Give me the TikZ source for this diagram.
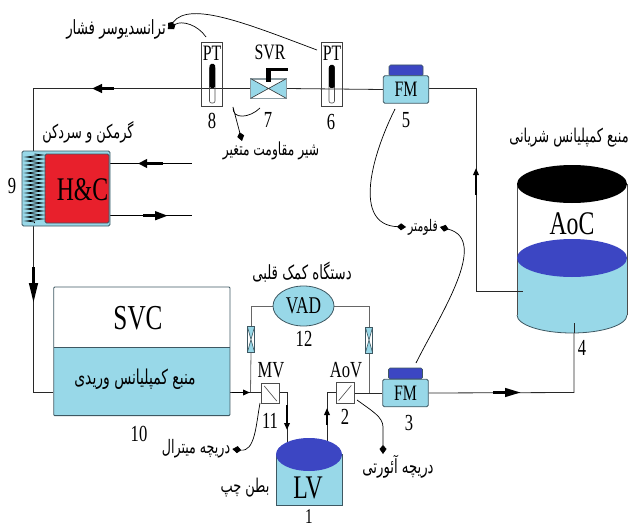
\documentclass[tikz,border=0pt]{standalone}
\usepackage{fontspec}
\usepackage{graphicx}
\setmainfont[FakeStretch=0.72]{Liberation Serif}
\newfontfamily\fa[Script=Arabic]{DejaVu Sans}
\TeXXeTstate=1
\newcommand{\pertext}[1]{\scalebox{0.68}[1]{\beginR #1\endR}}
\usetikzlibrary{arrows.meta,backgrounds,decorations.pathmorphing,calc,shapes.geometric}
\definecolor{water}{RGB}{152,216,232}
\definecolor{deep}{RGB}{60,70,195}
\definecolor{heat}{RGB}{232,32,44}
\definecolor{edge}{RGB}{62,88,98}
\definecolor{pipec}{RGB}{40,40,40}
\tikzset{
  pipe/.style={draw=pipec,line width=0.8pt},
  greypipe/.style={draw=black!60,line width=0.8pt},
  flowtip/.style={line width=2.8pt,draw=black,-{Triangle[length=#1,width=8.5pt]}},
  flowtip/.default=10pt,
  smallflow/.style={line width=1.8pt,draw=black,-{Triangle[length=7pt,width=5.5pt]}},
  leader/.style={line width=0.7pt,draw=black,-{Kite[length=9pt,width=7pt,inset=4pt]}},
  plain/.style={line width=0.7pt,draw=black},
  sz/.style={font=\fontsize{#1}{#1}\selectfont,inner sep=0pt},
  fatxt/.style={font=\fa\fontsize{#1}{#1}\selectfont,inner sep=2pt},
  ptbox/.style={draw=black!75,line width=0.8pt,minimum width=21pt,minimum height=64pt,inner sep=0pt},
  whitebox/.style={draw=black!70,fill=white,line width=0.7pt,minimum width=18pt,minimum height=20.5pt,inner sep=0pt},
  fmbox/.style={draw=edge,fill=water,line width=0.8pt,rounded corners=1.5pt,minimum width=45.5pt,minimum height=27.5pt,inner sep=0pt,font=\fontsize{22}{22}\selectfont},
  capbox/.style={draw=edge,fill=deep,line width=0.6pt,rounded corners=1.5pt,minimum width=34pt,minimum height=11pt,inner sep=0pt},
  xvalve/.style={draw=edge,fill=white,line width=0.7pt,minimum width=6.5pt,minimum height=25pt,inner sep=0pt},
}
\begin{document}
\begin{tikzpicture}[x=1pt,y=-1pt]
\useasboundingbox (0,0) rectangle (630,527);

% --- venous reservoir
\fill[water] (53.7,347) rectangle (230,415.6);
\node[draw=edge,line width=0.9pt,rounded corners=1pt,minimum width=176.3pt,minimum height=128.6pt,inner sep=0pt] (svc) at (141.85,351.3) {};
\draw[edge,line width=0.9pt] (53.7,347) -- (230,347);
\node[sz=35] (svclabel) at (138,318) {SVC};
\node[fatxt=20.5] (venous) at (135,379) {\pertext{منبع کمپلیانس وریدی}};
\node[sz=23] (n10) at (139,434) {10};

% --- heater/cooler
\node[draw=edge,fill=water,line width=0.9pt,rounded corners=1.5pt,minimum width=88pt,minimum height=75pt,inner sep=0pt] (hx) at (66,188.5) {};
\node[draw=edge,fill=heat,line width=0.8pt,rounded corners=1.5pt,minimum width=64pt,minimum height=69pt,inner sep=0pt] (hc) at (77,188.5) {};
\node[sz=33] (hct) at (82.5,190) {H\&C};
\draw[black,line width=0.7pt,decorate,decoration={zigzag,segment length=4pt,amplitude=8pt}] (34.5,154) -- (34.5,223);
\node[fatxt=19] (hclabel) at (88,132) {\pertext{گرمکن و سردکن}};
\node[sz=23] (n9) at (12,186) {9};
\coordinate (hcin) at (192,163.5);
\coordinate (hcout) at (192,215.7);
\coordinate (hcinA) at (163,163.5);
\coordinate (hcinB) at (138,163.5);
\coordinate (hcoutA) at (143,215.7);
\coordinate (hcoutB) at (168,215.7);

% --- top line instruments
\node[ptbox] (pt8) at (212,74) {};
\node[sz=22] (pt8t) at (212,53) {PT};
\node[ptbox] (pt6) at (331.5,74) {};
\node[sz=22] (pt6t) at (332,53) {PT};
\draw[black!70,line width=0.6pt,rounded corners=2pt] (209.5,66) rectangle (215,103);
\fill[black,rounded corners=1.5pt] (209.5,64) rectangle (215,88);
\draw[black!70,line width=0.6pt,rounded corners=2pt] (329,66) rectangle (334.5,103);
\fill[black,rounded corners=1.5pt] (329,65) rectangle (334.5,88);
\node[sz=23] (n8) at (212,121) {8};
\node[sz=23] (n6) at (331,122) {6};

\node[draw=edge!60,fill=white,line width=0.7pt,minimum width=35pt,minimum height=19pt,inner sep=0pt] (svr) at (268.5,88.5) {};
\fill[water] (svr.north west) -- (svr.center) -- (svr.south west) -- cycle;
\fill[water] (svr.north east) -- (svr.center) -- (svr.south east) -- cycle;
\draw[edge!60,line width=0.7pt] (svr.north west) rectangle (svr.south east);
\draw[black!80,line width=0.6pt] (svr.north west) -- (svr.south east) (svr.south west) -- (svr.north east);
\fill[black] (266,74) rectangle (271,82);
\fill[black] (266,68) rectangle (288,71);
\fill[black] (266,68) rectangle (271,75);
\node[sz=22] (svrt) at (270,52) {SVR};
\node[sz=23] (n7) at (268,120) {7};
\node[fatxt=18] (svrlabel) at (271,151) {\pertext{شیر مقاومت متغیر}};

\node[capbox] (cap5) at (406,70.5) {};
\node[fmbox] (fm5) at (406,89.5) {FM};
\node[sz=23] (n5) at (406,120) {5};

\node[capbox] (cap3) at (405.5,373.5) {};
\node[fmbox] (fm3) at (405.5,393) {FM};
\node[sz=23] (n3) at (409,423) {3};

% --- arterial reservoir
\fill[water] (517,258) -- (517,315) arc[start angle=180,end angle=360,x radius=55pt,y radius=18pt] -- (627,258) -- cycle;
\draw[black!70,line width=0.7pt] (517,184) -- (517,315) (627,184) -- (627,315);
\draw[edge,line width=0.8pt] (517,315) arc[start angle=180,end angle=360,x radius=55pt,y radius=18pt];
\fill[deep] (572,258) ellipse[x radius=55pt,y radius=19pt];
\fill[black] (572,184) ellipse[x radius=55pt,y radius=19pt];
\node[sz=33] (aoc) at (572,224) {AoC};
\node[fatxt=19] (aoclabel) at (569,138) {\pertext{منبع کمپلیانس شریانی}};
\node[sz=23] (n4) at (582,348) {4};
\coordinate (aocside) at (523,291);
\coordinate (aocbot) at (574,333);

% --- ventricle
\fill[water] (276,454) rectangle (342,505);
\draw[edge,line width=0.8pt] (276,454) -- (276,505) -- (342,505) -- (342,454);
\fill[deep] (309,454.5) ellipse[x radius=33pt,y radius=16.5pt];
\node[sz=33] (lv) at (308,488) {LV};
\node[fatxt=19] (lvlabel) at (245,488) {\pertext{بطن چپ}};
\node[sz=21] (n1) at (309,516.5) {1};
\coordinate (lvin) at (287,448);
\coordinate (lvout) at (327,448);

% --- valves and VAD
\node[whitebox] (mv) at (270.5,393.5) {};
\draw[black!70,line width=0.6pt] (mv.north west) ++(3,3) -- ($(mv.south east)+(-3,-3)$);
\node[sz=23] (mvt) at (271,370) {MV};
\node[sz=23] (n11) at (270,421) {11};
\node[whitebox] (aov) at (345,393) {};
\draw[black!70,line width=0.6pt] (aov.south west) ++(3,-3) -- ($(aov.north east)+(-3,3)$);
\node[sz=23] (aovt) at (346,370) {AoV};
\node[sz=23] (n2) at (345,417) {2};

\node[ellipse,draw=edge,fill=water,line width=0.8pt,minimum width=61pt,minimum height=40pt,inner sep=0pt,font=\fontsize{24}{24}\selectfont] (vad) at (303.5,306) {VAD};
\node[sz=23] (n12) at (304,339) {12};
\node[fatxt=19.5] (vadlabel) at (302,272) {\pertext{دستگاه کمک قلبی}};
\node[xvalve] (vl) at (251,339.5) {};
\fill[water] (vl.north west) -- (vl.center) -- (vl.north east) -- cycle;
\fill[water] (vl.south west) -- (vl.center) -- (vl.south east) -- cycle;
\draw[edge,line width=0.7pt] (vl.north west) rectangle (vl.south east);
\draw[edge,line width=0.6pt] (vl.north west) -- (vl.south east) (vl.north east) -- (vl.south west);
\node[xvalve] (vr) at (369,340) {};
\fill[water] (vr.north west) -- (vr.center) -- (vr.north east) -- cycle;
\fill[water] (vr.south west) -- (vr.center) -- (vr.south east) -- cycle;
\draw[edge,line width=0.7pt] (vr.north west) rectangle (vr.south east);
\draw[edge,line width=0.6pt] (vr.north west) -- (vr.south east) (vr.north east) -- (vr.south west);

% --- annotation labels
\node[fatxt=19.6] (trans) at (116,29) {\pertext{ترانسدیوسر فشار}};
\node[fatxt=16] (flow) at (423,227) {\pertext{فلومتر}};
\node[fatxt=18.6] (mvlabel) at (196,449) {\pertext{دریچه میترال}};
\node[fatxt=19.5] (aovlabel) at (398,467) {\pertext{دریچه آئورتی}};

\coordinate (c33) at (33,88.5);
\coordinate (c476a) at (476,88.5);
\coordinate (c476b) at (476,291);
\coordinate (c33b) at (33,392);
\coordinate (c574) at (574,392.5);
\coordinate (lj) at (250.5,392);
\coordinate (rj) at (369,392.5);

% --- pipes behind everything
\begin{pgfonlayer}{background}
\draw[pipe] (fm5.west) -- (svr.east);
\draw[pipe] (svr.west) -- (c33) -- (hx.north -| c33);
\draw[pipe] (hx.south -| c33) -- (c33b) -- (svc.west |- c33b);
\draw[pipe] (fm5.east |- c476a) -- (c476a) -- (c476b);
\draw[pipe] (fm3.east) -- (c574) -- (aocbot);
\draw[pipe] (aov.east |- fm3.west) -- (fm3.west);
\draw[pipe] (svc.east |- lj) -- (mv.west |- lj);
\draw[pipe] (mv.east |- lj) -- (lvin |- lj) -- (lvin);
\draw[pipe] (aov.west |- lj) -- (lvout |- lj) -- (lvout);
\draw[greypipe] (lj) -- (vl.south);
\draw[greypipe] (vl.north) -- (vl.north |- vad.west) -- (vad.west);
\draw[greypipe] (rj) -- (vr.south);
\draw[greypipe] (vr.north) -- (vr.north |- vad.east) -- (vad.east);
\draw[plain] (hc.east |- hcin) -- (hcin);
\draw[plain] (hc.east |- hcout) -- (hcout);
\end{pgfonlayer}
\draw[pipe] (c476b) -- (aocside);
\draw[pipe] (aocbot) -- ++(0,-10);

% --- flow arrows
\coordinate (fa1) at (114,88.5); \coordinate (fa2) at (92,88.5);
\draw[flowtip] (fa1) -- (fa2);
\coordinate (fa3) at (33.5,267); \coordinate (fa4) at (33.5,303);
\draw[flowtip=20pt] (fa3) -- (fa4);
\draw[flowtip=9pt] (hcinA) -- (hcinB);
\draw[flowtip=13pt] (hcoutA) -- (hcoutB);
\coordinate (fa5) at (232,392.5); \coordinate (fa6) at (250,392.5);
\draw[smallflow] (fa5) -- (fa6);
\coordinate (fa7) at (287,405); \coordinate (fa8) at (287,430);
\draw[smallflow] (fa7) -- (fa8);
\coordinate (fa9) at (327,425); \coordinate (fa10) at (327,408);
\draw[smallflow] (fa9) -- (fa10);
\coordinate (fa11) at (493,392.5); \coordinate (fa12) at (521,392.5);
\draw[flowtip=16pt] (fa11) -- (fa12);
\coordinate (fa13) at (476,195); \coordinate (fa14) at (476,168);
\draw[smallflow] (fa13) -- (fa14);

% --- leaders
\coordinate (l8) at (206,37);
\coordinate (l6) at (317,50);
\draw[leader] (l8) .. controls (198,25) and (182,20) .. (trans.east);
\draw[leader] (l6) .. controls (250,25) and (190,0) .. (trans.east);
\coordinate (l7) at (260,108);
\coordinate (l7m) at (233,107);
\coordinate (l7e) at (242,141);
\draw[leader] (l7) .. controls (250,118) and (232,120) .. (l7m) -- (l7e);
\coordinate (l5) at (395,109);
\draw[leader] (l5) .. controls (372,155) and (352,225) .. (flow.west);
\coordinate (l3) at (416,363);
\draw[leader] (l3) .. controls (440,315) and (490,240) .. (flow.east);
\coordinate (l11) at (260,403);
\draw[leader] (l11) .. controls (256,425) and (255,452) .. (mvlabel.east);
\coordinate (l2) at (357,400);
\coordinate (l2m) at (383,427);
\coordinate (l2e) at (383,454);
\draw[leader] (l2) .. controls (372,411) and (383,417) .. (l2m) -- (l2e);
\end{tikzpicture}
\end{document}
